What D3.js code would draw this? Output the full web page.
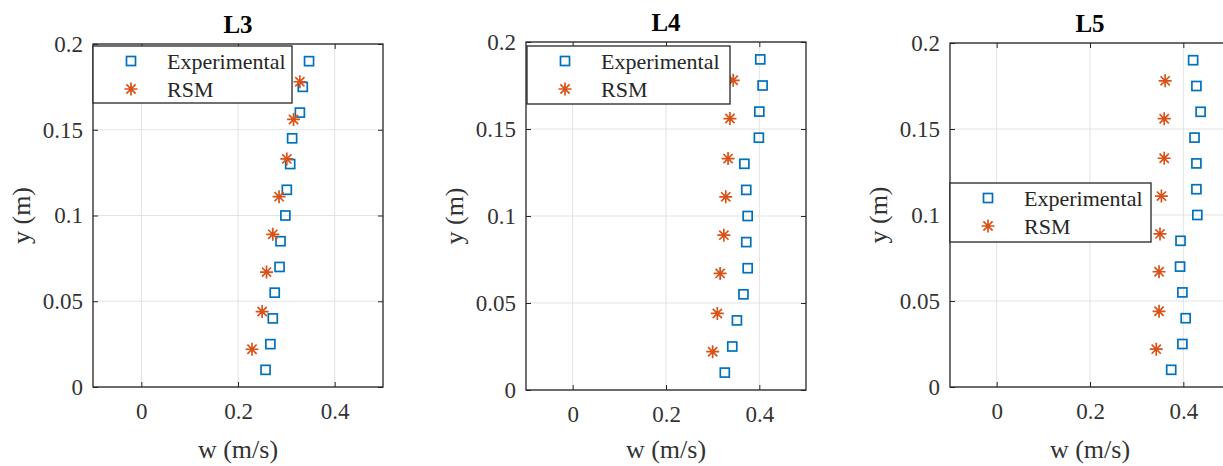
<!DOCTYPE html>
<html>
<head>
<meta charset="utf-8">
<script src="https://cdn.jsdelivr.net/npm/d3@7"></script>
<style>
	body { margin: 0; background: #fff; }
	svg text { font-family: "Liberation Serif", "Times New Roman", serif; }
</style>
</head>
<body>
<div id="chart"></div>
<script>
// measured heights (m)
var expY = [0.19, 0.175, 0.16, 0.145, 0.13, 0.115, 0.1, 0.085, 0.07, 0.055, 0.04, 0.025, 0.01];
var rsmY = [0.178, 0.156, 0.133, 0.111, 0.089, 0.067, 0.044, 0.022];
// w (m/s)
var l3Exp = [0.347, 0.334, 0.328, 0.312, 0.308, 0.301, 0.298, 0.288, 0.286, 0.276, 0.272, 0.267, 0.257];
var l3Rsm = [0.328, 0.315, 0.301, 0.285, 0.272, 0.259, 0.250, 0.229];
var l4Exp = [0.402, 0.407, 0.400, 0.399, 0.368, 0.372, 0.375, 0.372, 0.375, 0.366, 0.352, 0.342, 0.326];
var l4Rsm = [0.344, 0.337, 0.333, 0.328, 0.324, 0.316, 0.310, 0.300];
var l5Exp = [0.421, 0.428, 0.437, 0.424, 0.428, 0.428, 0.430, 0.394, 0.393, 0.398, 0.405, 0.398, 0.374];
var l5Rsm = [0.361, 0.359, 0.359, 0.353, 0.350, 0.348, 0.348, 0.342];
// ticks
var xTicks = [0, 0.2, 0.4];
var yTicks = [0, 0.05, 0.1, 0.15, 0.2];
var seriesNames = ["Experimental", "RSM"];

(function() {
	var width = 1223, height = 466;
	var blue = "#0072BD", orange = "#D95319";

	var svg = d3.select("#chart").append("svg")
		.attr("width", width)
		.attr("height", height);

	// panel boxes and legend spots, in pixels
	var panels = [
		{ title: "L3", exp: l3Exp, rsm: l3Rsm, left: 93, right: 383, top: 44, bottom: 387, lx: 93, ly: 46, lw: 199, lh: 57 },
		{ title: "L4", exp: l4Exp, rsm: l4Rsm, left: 526, right: 806, top: 42, bottom: 390, lx: 527, ly: 46, lw: 203, lh: 58 },
		{ title: "L5", exp: l5Exp, rsm: l5Rsm, left: 950, right: 1230, top: 43, bottom: 387, lx: 950, ly: 183, lw: 201, lh: 59 }
	];

	var fmt = d3.format("~g");

	function starPath(r) {
		var d = r * Math.SQRT1_2;
		return "M" + (-r) + ",0L" + r + ",0M0," + (-r) + "L0," + r +
			"M" + (-d) + "," + (-d) + "L" + d + "," + d +
			"M" + (-d) + "," + d + "L" + d + "," + (-d);
	}

	panels.forEach(function(p) {
		var x = d3.scaleLinear().domain([-0.1, 0.5]).range([p.left, p.right]);
		var y = d3.scaleLinear().domain([0, 0.2]).range([p.bottom, p.top]);
		var g = svg.append("g");

		// grid
		g.selectAll(".gx").data(xTicks).enter().append("line")
			.attr("x1", function(d) { return x(d); }).attr("x2", function(d) { return x(d); })
			.attr("y1", p.top).attr("y2", p.bottom)
			.attr("stroke", "#e3e3e3").attr("stroke-width", 1);
		g.selectAll(".gy").data(yTicks).enter().append("line")
			.attr("y1", function(d) { return y(d); }).attr("y2", function(d) { return y(d); })
			.attr("x1", p.left).attr("x2", p.right)
			.attr("stroke", "#e3e3e3").attr("stroke-width", 1);

		// axes with inward ticks
		g.append("g").attr("transform", "translate(0," + p.bottom + ")")
			.call(d3.axisBottom(x).tickValues(xTicks).tickFormat(fmt).tickSize(-5).tickSizeOuter(0).tickPadding(16));
		g.append("g").attr("transform", "translate(" + p.left + ",0)")
			.call(d3.axisLeft(y).tickValues(yTicks).tickFormat(fmt).tickSize(-5).tickSizeOuter(0).tickPadding(10));
		g.append("g").attr("transform", "translate(0," + p.top + ")")
			.call(d3.axisTop(x).tickValues(xTicks).tickFormat("").tickSize(-5).tickSizeOuter(0));
		g.append("g").attr("transform", "translate(" + p.right + ",0)")
			.call(d3.axisRight(y).tickValues(yTicks).tickFormat("").tickSize(-5).tickSizeOuter(0));
		g.selectAll(".domain").remove();
		g.selectAll(".tick line").attr("stroke", "#262626");
		g.selectAll(".tick text")
			.attr("fill", "#333")
			.style("font-size", "23px")
			.style("font-family", "'Liberation Serif', serif");

		// box
		g.append("rect")
			.attr("x", p.left).attr("y", p.top)
			.attr("width", p.right - p.left).attr("height", p.bottom - p.top)
			.attr("fill", "none").attr("stroke", "#262626").attr("stroke-width", 1.3);

		// series
		g.selectAll(".sq").data(p.exp).enter().append("rect")
			.attr("x", function(d) { return x(d) - 4.5; })
			.attr("y", function(d, i) { return y(expY[i]) - 4.5; })
			.attr("width", 9).attr("height", 9)
			.attr("fill", "none").attr("stroke", blue).attr("stroke-width", 1.7);
		g.selectAll(".st").data(p.rsm).enter().append("path")
			.attr("transform", function(d, i) { return "translate(" + x(d) + "," + y(rsmY[i]) + ")"; })
			.attr("d", starPath(6.5))
			.attr("fill", "none").attr("stroke", orange).attr("stroke-width", 1.7);

		// labels
		g.append("text")
			.attr("x", (p.left + p.right) / 2).attr("y", p.top - 11)
			.attr("text-anchor", "middle")
			.style("font-size", "25px").style("font-weight", "bold")
			.attr("fill", "#000")
			.text(p.title);
		g.append("text")
			.attr("x", (p.left + p.right) / 2).attr("y", 458)
			.attr("text-anchor", "middle")
			.style("font-size", "26px")
			.attr("fill", "#333")
			.text("w (m/s)");
		g.append("text")
			.attr("transform", "translate(" + (p.left - 63) + "," + ((p.top + p.bottom) / 2) + ") rotate(-90)")
			.attr("text-anchor", "middle")
			.style("font-size", "26px")
			.attr("fill", "#333")
			.text("y (m)");

		// legend
		var lg = g.append("g").attr("transform", "translate(" + p.lx + "," + p.ly + ")");
		lg.append("rect")
			.attr("width", p.lw).attr("height", p.lh)
			.attr("fill", "#fff").attr("stroke", "#262626").attr("stroke-width", 1.3);
		lg.append("rect")
			.attr("x", 38 - 4.5).attr("y", 15 - 4.5).attr("width", 9).attr("height", 9)
			.attr("fill", "none").attr("stroke", blue).attr("stroke-width", 1.7);
		lg.append("path")
			.attr("transform", "translate(38,43)")
			.attr("d", starPath(6.5))
			.attr("fill", "none").attr("stroke", orange).attr("stroke-width", 1.7);
		lg.selectAll(".lt").data(seriesNames).enter().append("text")
			.attr("x", 74).attr("y", function(d, i) { return 15 + i * 28; })
			.attr("dy", "0.35em")
			.style("font-size", "22px")
			.attr("fill", "#262626")
			.text(function(d) { return d; });
	});
})();
</script>
</body>
</html>
